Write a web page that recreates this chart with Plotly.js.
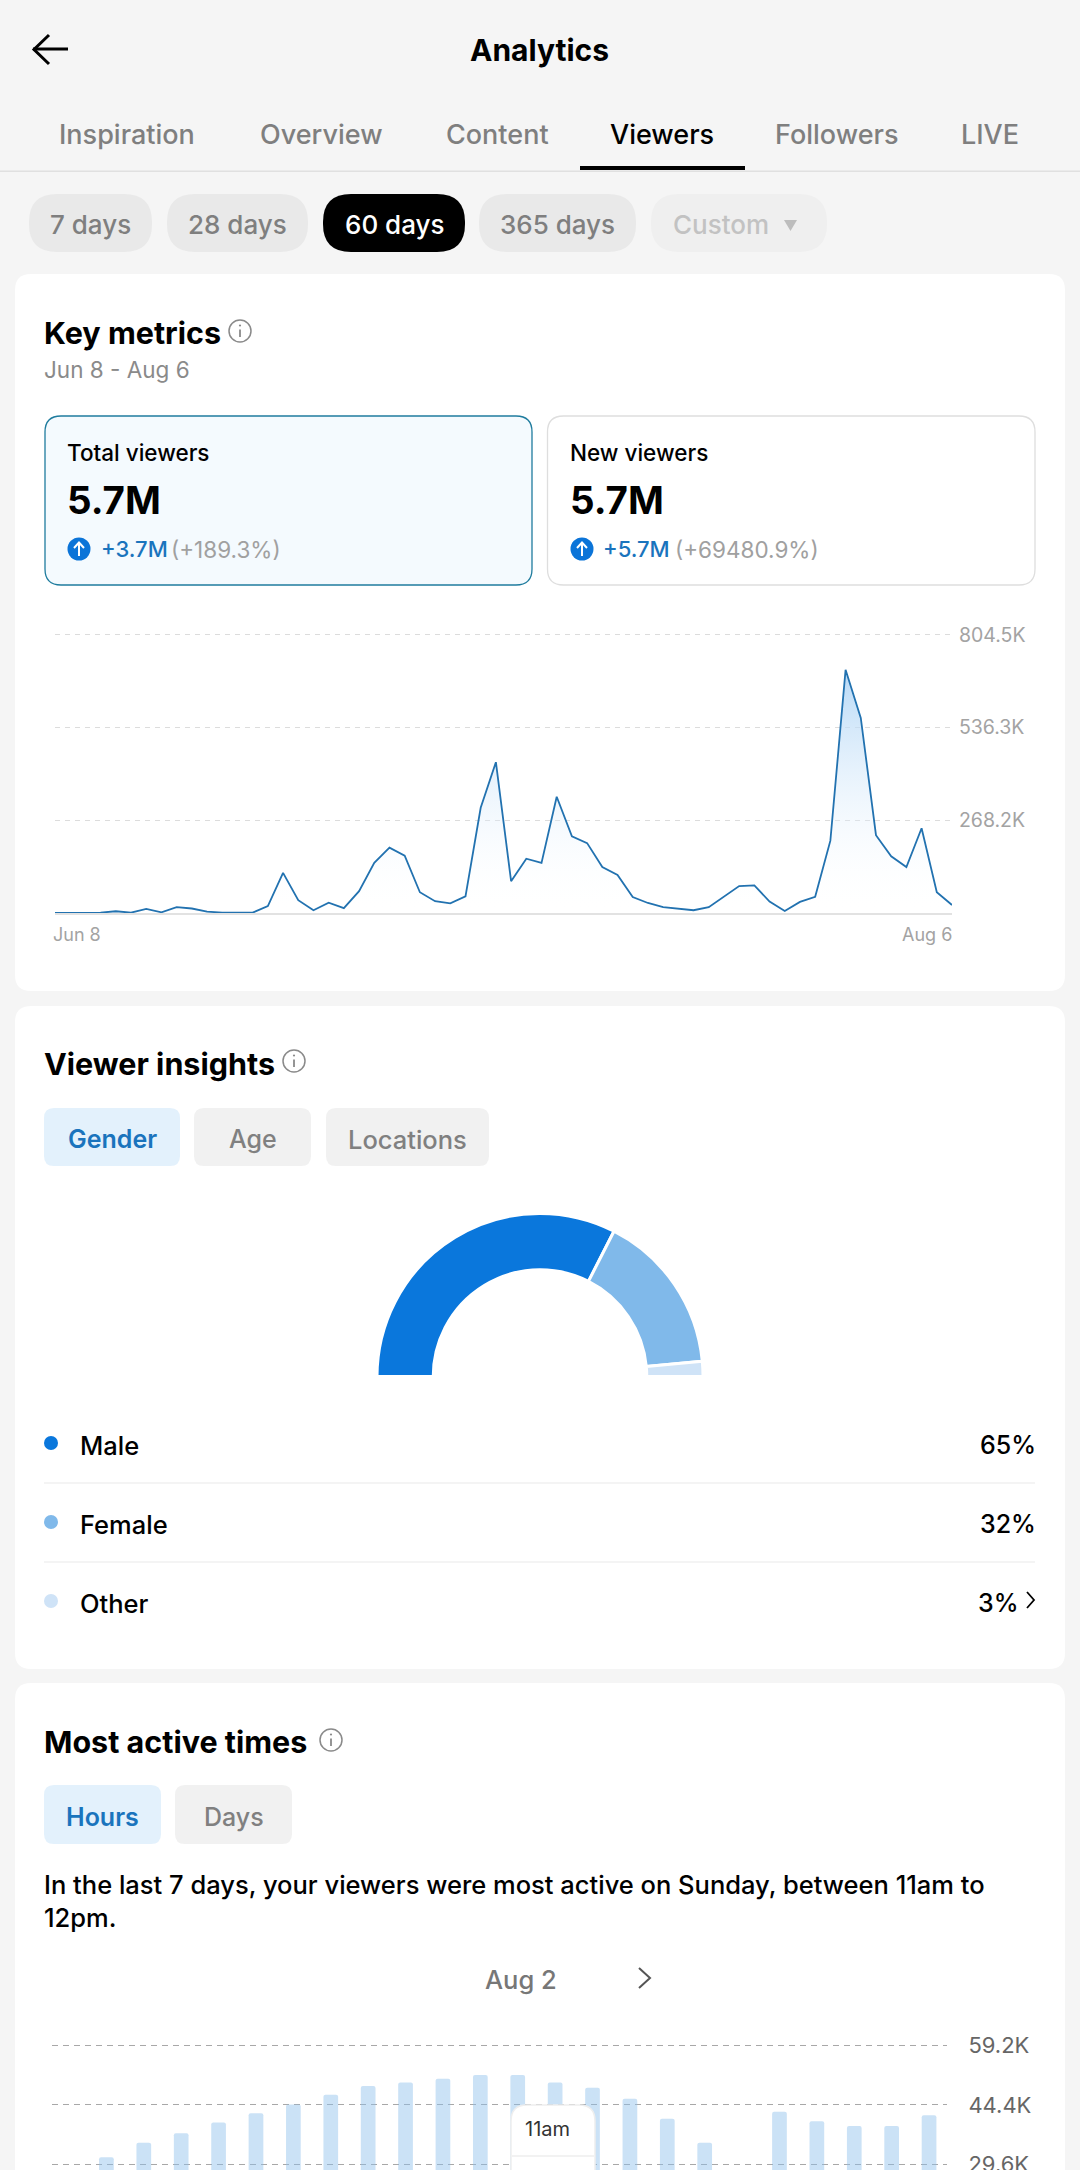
<!DOCTYPE html>
<html>
<head>
<meta charset="utf-8">
<script src="https://cdn.plot.ly/plotly-3.0.1.min.js"></script>
<style>html,body{margin:0;padding:0;background:#f5f5f5;overflow:hidden}#chart{width:1080px;height:2170px}</style>
</head>
<body>
<div id="chart"></div>
<script>
// ---------- data ----------
const viewerValuesK = [0.5,0.5,1,1,5,1,12,2,17,13,4,1,1,1,20,116,37,8,30,14,63,145,189,166,60,34,28,48,304,436,92,157,145,336,222,202,133,110,46,29,17,12,8,17,48,78,80,33,6,32,47,209,703,564,225,164,133,245,60,23];
const viewerTicks = [268.2,536.3,804.5];
const viewerTickLabels = ['268.2K','536.3K','804.5K'];
const genderLabels = ['Male','Female','Other'];
const genderValues = [65,32,3];
const genderColors = ['#0a77dc','#80b9ea','#cfe3f7'];
const hourLabels = ['12am','1am','2am','3am','4am','5am','6am','7am','8am','9am','10am','11am','12pm','1pm','2pm','3pm','4pm','5pm','6pm','7pm','8pm','9pm','10pm','11pm'];
const hourValuesK = [26,31.3,34.9,37.3,40.0,42.3,44.5,46.9,49.1,50.0,50.9,51.9,51.9,50.0,48.7,45.9,40.9,34.9,27,42.7,40.3,39.1,39.1,41.8];
const hourTicks = [29.6,44.4,59.2];
const hourTickLabels = ['29.6K','44.4K','59.2K'];
const tabLabels = ['Inspiration','Overview','Content','Viewers','Followers','LIVE'];
const rangeLabels = ['7 days','28 days','60 days','365 days','Custom'];

// ---------- page helpers ----------
const W = 1080, H = 2170, FONT = 'Inter, "Noto Sans", sans-serif';
const px = x => x / W, py = y => 1 - y / H;
const P = (x, y) => `${px(x)},${py(y)}`;
const shapes = [], annotations = [];
function rr(x0, y0, x1, y1, r, fill, line, lw, layer) {
  const p = `M${P(x0+r,y0)}L${P(x1-r,y0)}Q${P(x1,y0)} ${P(x1,y0+r)}L${P(x1,y1-r)}Q${P(x1,y1)} ${P(x1-r,y1)}L${P(x0+r,y1)}Q${P(x0,y1)} ${P(x0,y1-r)}L${P(x0,y0+r)}Q${P(x0,y0)} ${P(x0+r,y0)}Z`;
  shapes.push({type:'path', xref:'paper', yref:'paper', path:p, fillcolor:fill, line:{color:line||'rgba(0,0,0,0)', width:lw||0}, layer:layer||'below'});
}
function stroke(pts, color, w, layer) {
  const p = 'M' + pts.map(q => P(q[0],q[1])).join('L');
  shapes.push({type:'path', xref:'paper', yref:'paper', path:p, line:{color, width:w}, fillcolor:'rgba(0,0,0,0)', layer:layer||'above'});
}
function circle(cx, cy, r, fill, line, lw) {
  shapes.push({type:'circle', xref:'paper', yref:'paper', x0:px(cx-r), x1:px(cx+r), y0:py(cy+r), y1:py(cy-r), fillcolor:fill, line:{color:line||'rgba(0,0,0,0)', width:lw||0}, layer:'above'});
}
function txt(x, y, text, size, color, weight, anchor) {
  annotations.push({xref:'paper', yref:'paper', x:px(x), y:py(y), text, showarrow:false, xanchor:anchor||'left', yanchor:'middle', borderpad:0, borderwidth:0,
    font:{family:FONT, size, color, weight:weight||400}});
}
function info(cx, cy) {
  circle(cx, cy, 11, 'rgba(0,0,0,0)', '#8a8a8a', 1.5);
  stroke([[cx,cy-1.5],[cx,cy+6]], '#8a8a8a', 1.8);
  circle(cx, cy-5.5, 1.1, '#8a8a8a');
}

// ---------- chrome ----------
stroke([[33,49],[68,49]], '#000', 3);
stroke([[49,35],[34,49.5],[49,64]], '#000', 3);
txt(539, 50, 'Analytics', 30, '#000', 700, 'center');
const tabX = [127,321,497,662,837,990];
tabLabels.forEach((t,i)=>txt(tabX[i], 134, t, 27, i===3?'#000':'#7f7f7f', 500, 'center'));
shapes.push({type:'rect', xref:'paper', yref:'paper', x0:0, x1:1, y0:py(172), y1:py(170.5), fillcolor:'#e0e0e0', line:{width:0}, layer:'below'});
shapes.push({type:'rect', xref:'paper', yref:'paper', x0:px(580), x1:px(745), y0:py(170), y1:py(166), fillcolor:'#000', line:{width:0}, layer:'below'});
const pillX = [[29,152],[167,308],[323,465],[479,636],[651,827]];
rangeLabels.forEach((t,i)=>{
  const [a,b] = pillX[i];
  rr(a,194,b,252,28, i===2?'#000':(i===4?'#efefef':'#e9e9e9'));
  if (i===4) txt(672.5,225,t,26,'#c2c2c2',500);
  else txt((a+b)/2,225,t,26,i===2?'#fff':'#7f7f7f',500,'center');
});
shapes.push({type:'path', xref:'paper', yref:'paper', path:`M${P(784,220)}L${P(797,220)}L${P(790.5,231)}Z`, fillcolor:'#bdbdbd', line:{width:0}, layer:'above'});

rr(15,274,1065,991,16,'#fff');
rr(15,1006,1065,1669,16,'#fff');
rr(15,1683,1065,2230,16,'#fff');

// key metrics
txt(44,332,'Key metrics',30.5,'#000',700);
info(240,331);
txt(44,369,'Jun 8 - Aug 6',22.5,'#8a8a8a',400);
rr(45,416,532,585,16,'#f4fafe','#1f7c9e',1.3);
rr(547.5,416,1035,585,16,'#fff','#dedede',1.3);
[[67,'Total viewers','+3.7M','(+189.3%)',79,100.5,171],[570,'New viewers','+5.7M','(+69480.9%)',582,603,675]].forEach(m=>{
  txt(m[0],452.5,m[1],22.5,'#000',500);
  txt(m[0],500,'5.7M',38.5,'#000',700);
  circle(m[4],549,11.5,'#0b74d8');
  stroke([[m[4],556],[m[4],543]],'#fff',2);
  stroke([[m[4]-5,548],[m[4],542.5],[m[4]+5,548]],'#fff',2);
  txt(m[5],549,m[2],22,'#1a74bd',500);
  txt(m[6],549,m[3],22.5,'#a0a0a0',400);
});

// viewer insights
txt(44,1063,'Viewer insights',30.5,'#000',700);
info(294,1061);
rr(44,1108,180,1166,10,'#e3f1fc');
rr(194,1108,311,1166,10,'#f1f1f1');
rr(326,1108,489,1166,10,'#f1f1f1');
txt(112,1139,'Gender',25,'#1a74bd',600,'center');
txt(252.5,1139,'Age',25,'#808080',500,'center');
txt(407.5,1139,'Locations',25.5,'#808080',500,'center');
const rowY = [1444,1523,1602];
genderLabels.forEach((g,i)=>{
  circle(51,rowY[i]-1,7,genderColors[i]);
  txt(80,rowY[i]+1,g,25.5,'#000',500);
  txt(i===2?1018.5:1035.5,rowY[i]+1,genderValues[i]+'%',25,'#000',500,'right');
});
[1483,1562].forEach(y=>stroke([[44,y],[1035,y]],'#f0f0f0',1.5,'below'));
stroke([[1027,1592],[1034,1600],[1027,1608]],'#000',1.8);

// most active times
txt(44,1741,'Most active times',30.5,'#000',700);
info(331,1740);
rr(44,1785,161,1844,10,'#e3f1fc');
rr(175,1785,292,1844,10,'#f1f1f1');
txt(102.5,1817,'Hours',25,'#1a74bd',600,'center');
txt(233.5,1817,'Days',25,'#808080',500,'center');
txt(44,1884,'In the last 7 days, your viewers were most active on Sunday, between 11am to',25.5,'#000',500);
txt(44,1917,'12pm.',25.5,'#000',500);
txt(521,1979,'Aug 2',25.5,'#777',500,'center');
stroke([[639,1968],[650,1978],[639,1988]],'#555',2);

// tooltip over the bars
const tipPath = `M${P(511,2230)}L${P(511,2121)}Q${P(511,2105)} ${P(527,2105)}L${P(579,2105)}Q${P(595,2105)} ${P(595,2121)}L${P(595,2230)}Z`;
shapes.push({type:'path', xref:'paper', yref:'paper', path:tipPath, fillcolor:'#fff', line:{color:'#eeeeee', width:1.5}, layer:'above'});
stroke([[512,2156],[594,2156]],'#eeeeee',1.5);
txt(525,2129,hourLabels[11],20,'#333',400);

// date labels under the line chart
txt(53,935,'Jun 8',18,'#a3a3a3',400);
txt(952,935,'Aug 6',18,'#a3a3a3',400,'right');

// ---------- traces ----------
const trace1 = {
  type:'scatter', mode:'lines', xaxis:'x', yaxis:'y',
  x:viewerValuesK.map((_,i)=>i), y:viewerValuesK, cliponaxis:false,
  line:{color:'#2272b0', width:1.8, shape:'linear'},
  fill:'tozeroy',
  fillgradient:{type:'vertical', colorscale:[[0,'rgba(255,255,255,0)'],[1,'rgba(170,210,245,0.85)']]},
  hoverinfo:'skip'
};
const genderTotal = genderValues.reduce((a,b)=>a+b,0);
const trace2 = {
  type:'pie', sort:false, direction:'clockwise', rotation:270, hole:0.655,
  labels:genderLabels.concat(['']), values:genderValues.concat([genderTotal]),
  marker:{colors:genderColors.concat(['rgba(0,0,0,0)']), line:{color:'#fff', width:[3,3,3,0]}},
  textinfo:'none', hoverinfo:'skip', showlegend:false,
  domain:{x:[px(540-163),px(540+163)], y:[py(1376.5+163),py(1376.5-163)]}
};
const trace3 = {
  type:'bar', xaxis:'x2', yaxis:'y2', x:hourLabels, y:hourValuesK,
  marker:{color:'rgba(140,190,235,0.45)', cornerradius:2, line:{width:0}}, hoverinfo:'skip'
};

const layout = {
  width:W, height:H, margin:{l:0,r:0,t:0,b:0,pad:0},
  paper_bgcolor:'#f5f5f5', plot_bgcolor:'rgba(0,0,0,0)', showlegend:false,
  font:{family:FONT},
  bargap:0.607,
  xaxis:{domain:[px(55),px(952)], range:[0,59], anchor:'y', showgrid:false, zeroline:false, showticklabels:false, ticks:'', showline:true, linecolor:'#e2e2e2', linewidth:2},
  // the range runs a little past the top tick so that its gridline is drawn
  yaxis:{domain:[py(913),py(632.7)], range:[0,810.3], anchor:'x', side:'right', tickmode:'array', tickvals:viewerTicks, ticktext:viewerTickLabels,
    ticks:'outside', ticklen:2, tickcolor:'rgba(0,0,0,0)', tickfont:{family:FONT,size:19.5,color:'#a3a3a3'},
    showgrid:true, gridcolor:'#dcdcdc', griddash:'5px,5px', gridwidth:1, zeroline:false, showline:false},
  xaxis2:{domain:[px(52),px(947)], type:'category', range:[-0.455,23.48], anchor:'y2', showgrid:false, zeroline:false, showticklabels:false, ticks:'', showline:false},
  yaxis2:{domain:[0,py(2043.7)], range:[28.1,59.7], anchor:'x2', side:'right', tickmode:'array', tickvals:hourTicks, ticktext:hourTickLabels,
    ticks:'outside', ticklen:16, tickcolor:'rgba(0,0,0,0)', tickfont:{family:FONT,size:22,color:'#666'}, ticklabeloverflow:'allow',
    showgrid:true, gridcolor:'#a8a8a8', griddash:'6px,5px', gridwidth:1, zeroline:false, showline:false},
  shapes, annotations
};
Plotly.newPlot('chart',[trace1,trace3,trace2],layout,{displayModeBar:false,staticPlot:true,responsive:false});
</script>
</body>
</html>
